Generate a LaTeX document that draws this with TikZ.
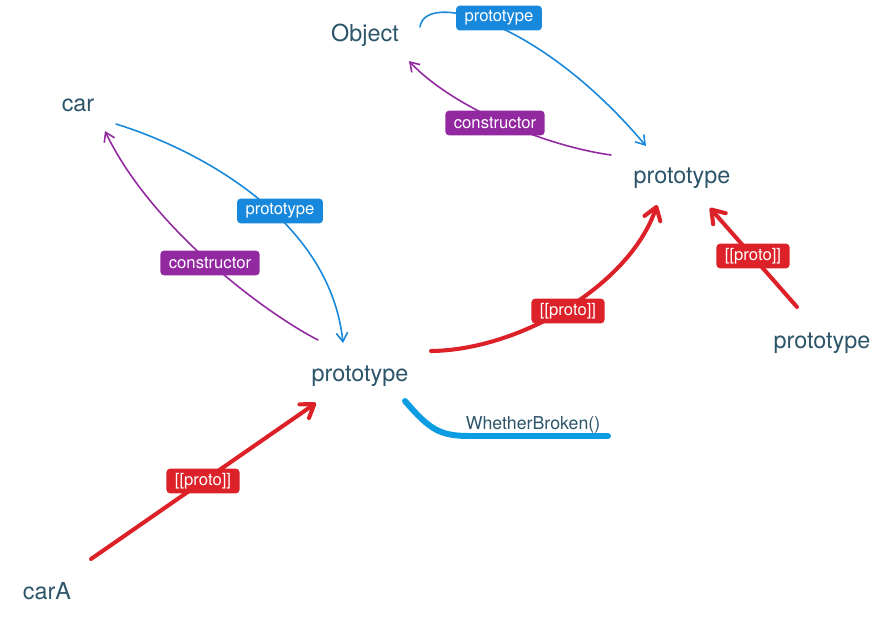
\documentclass[tikz,border=0pt]{standalone}
\usepackage{fontspec}
\setmainfont{TeX Gyre Heros}
\usepackage{tikz}
\usetikzlibrary{arrows.meta,positioning}

\definecolor{nameteal}{RGB}{44,85,106}
\definecolor{protoblue}{RGB}{24,136,220}
\definecolor{ctorpurple}{RGB}{146,41,160}
\definecolor{linkred}{RGB}{220,33,41}
\definecolor{methodcyan}{RGB}{12,156,226}

\begin{document}
\begin{tikzpicture}[x=0.02cm,y=-0.02cm,line cap=round,line join=round,
  word/.style={text=nameteal,font=\fontsize{13.3}{16}\selectfont,inner sep=0pt},
  tag/.style={fill=#1,text=white,rounded corners=2pt,font=\fontsize{9.5}{11}\selectfont,inner xsep=4.8pt,inner ysep=0pt,minimum height=14pt},
  slim/.style={draw=#1,line width=.9pt,-{Straight Barb[length=5pt,width=6.5pt]}},
  chain/.style={draw=linkred,line width=2.3pt,-{Straight Barb[length=7pt,width=9.5pt,round]}}]
\path[use as bounding box] (0,0) rectangle (896,623);

% objects
\node[word] (obj) at (365,35) {Object};
\node[word] (car) at (78,105) {car};
\node[word] (topproto) at (682,178) {prototype};
\node[word] (carproto) at (360,376) {prototype};
\node[word] (sideproto) at (822,343) {prototype};
\node[word] (cara) at (47,591) {carA};
\node[text=nameteal,font=\fontsize{10.1}{12}\selectfont,inner sep=0pt] (broken) at (533,425) {WhetherBroken()};

% prototype / constructor pairs
\draw[slim=protoblue] ([shift={(55,-8)}]obj.center) .. controls +(5,-37) and +(-106,-126) .. ([shift={(-36,-32)}]topproto.center);
\draw[slim=ctorpurple] ([shift={(-71,-23)}]topproto.center) .. controls +(-71,-10) and +(41,44) .. ([shift={(44,26)}]obj.center);
\draw[slim=protoblue] ([shift={(38,19)}]car.center) .. controls +(84,26) and +(-13,-123) .. ([shift={(-17,-33)}]carproto.center);
\draw[slim=ctorpurple] ([shift={(-42,-36)}]carproto.center) .. controls +(-58,-30) and +(45,94) .. ([shift={(27,26)}]car.center);

% [[proto]] links
\draw[chain] ([shift={(71,-25)}]carproto.center) .. controls +(89,-1) and +(-27,80) .. ([shift={(-25,27)}]topproto.center);
\draw[chain] ([shift={(-25,-36)}]sideproto.center) -- ([shift={(28,30)}]topproto.center);
\draw[chain] ([shift={(44,-32)}]cara.center) -- ([shift={(-44,27)}]carproto.center);

% method
\draw[methodcyan,line width=3.4pt] ([shift={(45,25)}]carproto.center) .. controls +(25,29) and +(-30,0) .. ([shift={(-63,11)}]broken.center) -- ([shift={(75,11)}]broken.center);

% tags
\node[tag=protoblue] (tagobj) at (499,18) {prototype};
\node[tag=ctorpurple] (tagobjctor) at (495,123) {constructor};
\node[tag=protoblue] (tagcar) at (280,211) {prototype};
\node[tag=ctorpurple] (tagcarctor) at (210,263) {constructor};
\node[tag=linkred] (tagmid) at (568,311) {[[proto]]};
\node[tag=linkred] (tagside) at (753,256) {[[proto]]};
\node[tag=linkred] (tagcara) at (203,481) {[[proto]]};
\end{tikzpicture}
\end{document}
